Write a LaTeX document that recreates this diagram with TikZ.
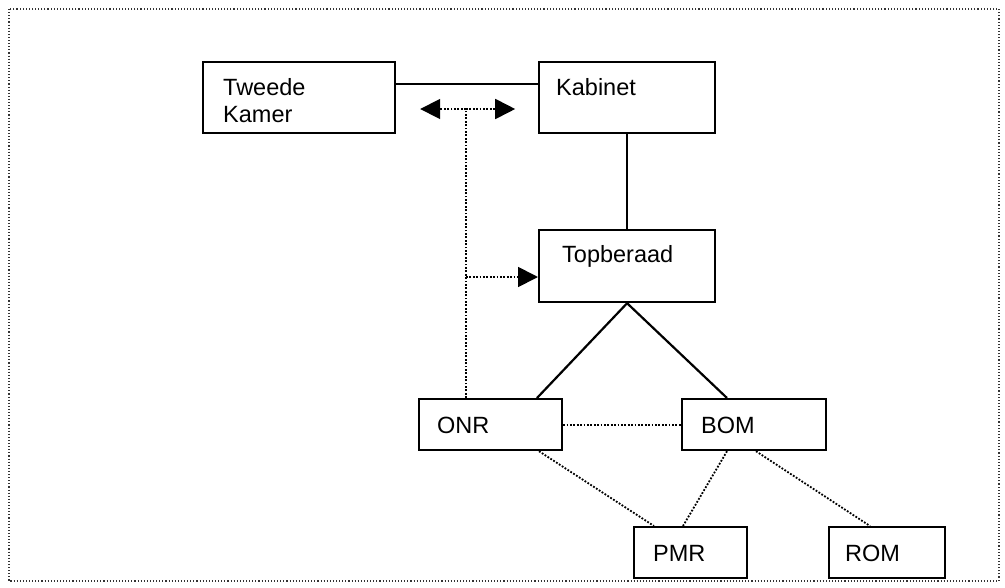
\documentclass[tikz,border=0pt]{standalone}
\usepackage{fontspec}
\setmainfont{Liberation Sans}
\usetikzlibrary{calc,arrows.meta}
\begin{document}
\begin{tikzpicture}[x=1pt,y=-1pt,
  box/.style={draw=black, line width=2.2pt, inner sep=0pt, anchor=north west},
  lbl/.style={anchor=base west, inner sep=0pt, align=left, font=\fontsize{23.5}{27}\selectfont},
  solidlink/.style={draw=black, line width=2.2pt},
  dotlink/.style={draw=black, line width=1.8pt, dash pattern=on 1.8pt off 1.6pt},
  head/.style={-{Triangle[length=20pt,width=20pt]}},
  frame/.style={draw=black!80, line width=1.1pt, dash pattern=on 1.1pt off 2pt}]
\useasboundingbox (0,0) rectangle (1005,587);
\draw[frame] (9,9) rectangle (999,581);

% boxes
\node[box, minimum width=192pt, minimum height=71pt] (tk) at (202,61) {};
\node[box, minimum width=176pt, minimum height=71pt] (kab) at (538,61) {};
\node[box, minimum width=176pt, minimum height=72pt] (top) at (538,229) {};
\node[box, minimum width=143pt, minimum height=51pt] (onr) at (418,398) {};
\node[box, minimum width=144pt, minimum height=51pt] (bom) at (681,398) {};
\node[box, minimum width=113pt, minimum height=51pt] (pmr) at (633,526) {};
\node[box, minimum width=116pt, minimum height=51pt] (rom) at (828,526) {};

% labels (a two-line node sits on the baseline of its last line)
\node[lbl] (tkl) at (223,122) {Tweede\\Kamer};
\node[lbl] (kabl) at (556,95) {Kabinet};
\node[lbl] (topl) at (562,262) {Topberaad};
\node[lbl] (onrl) at (437,433) {ONR};
\node[lbl] (boml) at (701,433) {BOM};
\node[lbl] (pmrl) at (653,561) {PMR};
\node[lbl] (roml) at (845,561) {ROM};

% solid hierarchy links
\draw[solidlink] ($(tk.north east)+(0,23)$) -- ($(kab.north west)+(0,23)$);
\draw[solidlink] (kab.south) -- (top.north);
\draw[solidlink] (top.south) -- ($(onr.north west)+(119,0)$);
\draw[solidlink] (top.south) -- ($(bom.north west)+(46,0)$);

% dotted consultation links
\coordinate (split) at ($(onr.north west)+(48,-289)$);
\coordinate (branch) at ($(onr.north west)+(48,-121)$);
\draw[dotlink] ($(onr.north west)+(48,0)$) -- (split);
\draw[dotlink, head] (split) -- ($(tk.north east)+(119,48)$);
\draw[dotlink, head] (split) -- ($(tk.north east)+(24,48)$);
\draw[dotlink, head] (branch) -- (branch -| top.west);
\draw[dotlink] (onr.east) -- (bom.west);
\draw[dotlink] ($(onr.south west)+(121,0)$) -- ($(pmr.north west)+(21,0)$);
\draw[dotlink] ($(bom.south west)+(46,0)$) -- ($(pmr.north west)+(50,0)$);
\draw[dotlink] ($(bom.south west)+(75,0)$) -- ($(rom.north west)+(42,0)$);
\end{tikzpicture}
\end{document}
